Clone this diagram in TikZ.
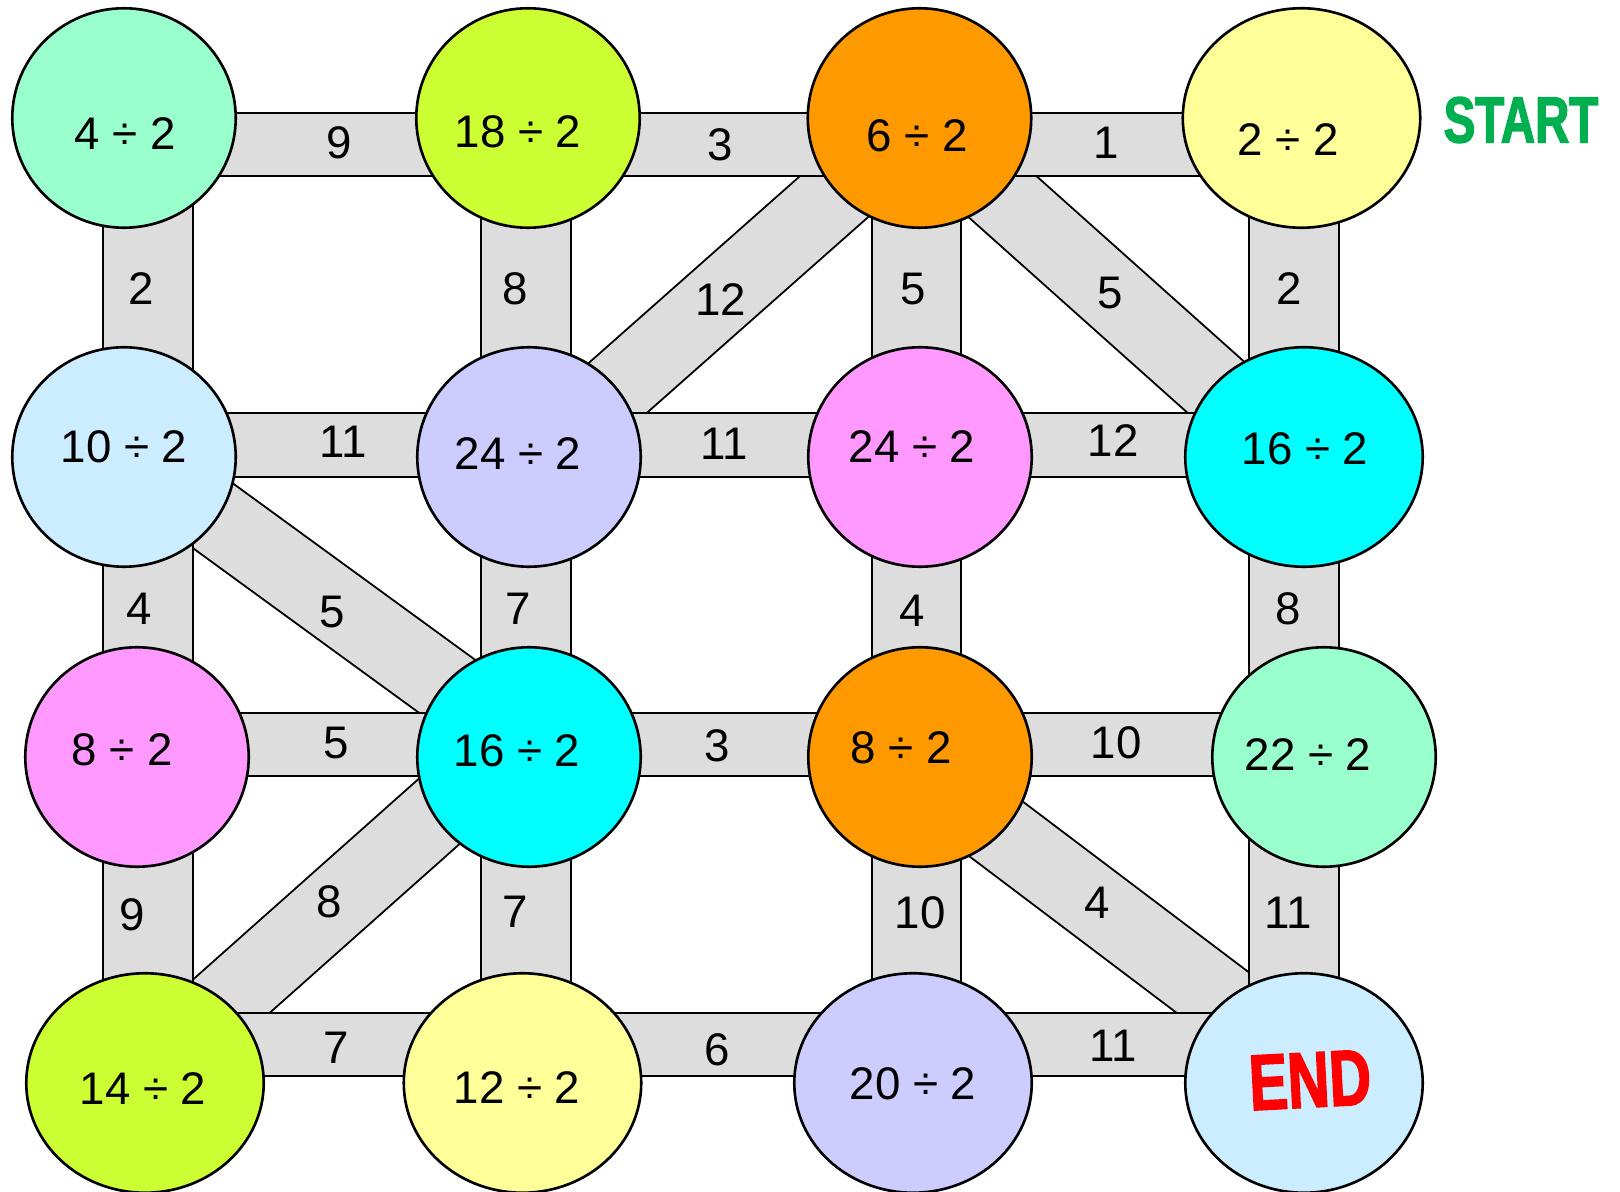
\documentclass[tikz,border=0pt]{standalone}
\usepackage{fontspec}
\setmainfont{Liberation Sans}
\newfontfamily\signfont{Liberation Sans}[FakeStretch=0.73,FakeBold=2]
\usetikzlibrary{shapes.geometric,calc}
\definecolor{mint}{HTML}{99FFCC}
\definecolor{lime}{HTML}{CCFF33}
\definecolor{amber}{HTML}{FF9900}
\definecolor{cream}{HTML}{FFFF99}
\definecolor{sky}{HTML}{CCECFF}
\definecolor{lilac}{HTML}{CCCCFF}
\definecolor{rose}{HTML}{FF99FF}
\definecolor{aqua}{HTML}{00FFFF}
\definecolor{road}{HTML}{DDDDDD}
\definecolor{go}{HTML}{00B050}
\pgfdeclarelayer{diag}
\pgfdeclarelayer{roads}
\pgfsetlayers{diag,roads,main}
\tikzset{
    disc/.style={ellipse,draw=black,line width=1.5pt,fill=#1,minimum width=4.47cm,minimum height=4.39cm,inner sep=0pt},
    wide/.style={minimum width=4.75cm},
    sum/.style={font=\fontsize{26}{30}\selectfont},
    weight/.style={font=\fontsize{26}{30}\selectfont},
    sign/.style={font=\signfont\bfseries\fontsize{#1}{#1}\selectfont},
    hedge/.style={draw=black,line width=1.1pt,double=road,double distance=35pt},
    vedge/.style={draw=black,line width=1.1pt,double=road,double distance=49.8pt},
    dedge/.style={draw=black,line width=1.1pt,double=road,double distance=42pt},
}

\begin{document}
\begin{tikzpicture}[x=0.02cm,y=-0.02cm]
\useasboundingbox (0,0) rectangle (1620,1192);
% stops
\node[disc=mint] (a1) at (124,118) {};
\node[disc=lime] (a2) at (528,118) {};
\node[disc=amber] (a3) at (919.5,118) {};
\node[disc=cream,wide] (a4) at (1301.5,118) {};
\node[disc=sky] (b1) at (124,457) {};
\node[disc=lilac] (b2) at (529,457) {};
\node[disc=rose] (b3) at (920,457) {};
\node[disc=aqua,wide] (b4) at (1304,457) {};
\node[disc=rose] (c1) at (137,757) {};
\node[disc=aqua] (c2) at (529,757) {};
\node[disc=amber] (c3) at (920,757) {};
\node[disc=mint] (c4) at (1324,757) {};
\node[disc=lime,wide] (d1) at (145,1083) {};
\node[disc=cream,wide] (d2) at (522.5,1083) {};
\node[disc=lilac,wide] (d3) at (913,1083) {};
\node[disc=sky,wide] (d4) at (1304,1083) {};
% sums
\node[sum] (s-a1) at (125,134) {4 ÷ 2};
\node[sum] (s-a2) at (518,132) {18 ÷ 2};
\node[sum] (s-a3) at (917,136) {6 ÷ 2};
\node[sum] (s-a4) at (1288,140) {2 ÷ 2};
\node[sum] (s-b1) at (124,447) {10 ÷ 2};
\node[sum] (s-b2) at (518,454) {24 ÷ 2};
\node[sum] (s-b3) at (912,447) {24 ÷ 2};
\node[sum] (s-b4) at (1305,449) {16 ÷ 2};
\node[sum] (s-c1) at (122,750) {8 ÷ 2};
\node[sum] (s-c2) at (517,751) {16 ÷ 2};
\node[sum] (s-c3) at (901,748) {8 ÷ 2};
\node[sum] (s-c4) at (1308,755) {22 ÷ 2};
\node[sum] (s-d1) at (143,1089) {14 ÷ 2};
\node[sum] (s-d2) at (517,1088) {12 ÷ 2};
\node[sum] (s-d3) at (913,1084) {20 ÷ 2};
\node[sign=45,text=red,rotate=3] (end) at (1310,1080) {END};
\node[sign=37,text=go] (start) at (1521,120) {START};
% rows and columns of the roads
\coordinate (r1) at (0,144.5);
\coordinate (r2) at (0,445);
\coordinate (r3) at (0,744.5);
\coordinate (r4) at (0,1044.5);
\coordinate (k1) at (148,0);
\coordinate (k2) at (526,0);
\coordinate (k3) at (916.5,0);
\coordinate (k4) at (1294,0);
\begin{pgfonlayer}{roads}
\draw[hedge] (a1 |- r1) -- (a2 |- r1);
\draw[hedge] (a2 |- r1) -- (a3 |- r1);
\draw[hedge] (a3 |- r1) -- (a4 |- r1);
\draw[hedge] (b1 |- r2) -- (b2 |- r2);
\draw[hedge] (b2 |- r2) -- (b3 |- r2);
\draw[hedge] (b3 |- r2) -- (b4 |- r2);
\draw[hedge] (c1 |- r3) -- (c2 |- r3);
\draw[hedge] (c2 |- r3) -- (c3 |- r3);
\draw[hedge] (c3 |- r3) -- (c4 |- r3);
\draw[hedge] (d1 |- r4) -- (d2 |- r4);
\draw[hedge] (d2 |- r4) -- (d3 |- r4);
\draw[hedge] (d3 |- r4) -- (d4 |- r4);
\draw[vedge] (a1 -| k1) -- (b1 -| k1);
\draw[vedge] (b1 -| k1) -- (c1 -| k1);
\draw[vedge] (c1 -| k1) -- (d1 -| k1);
\draw[vedge] (a2 -| k2) -- (b2 -| k2);
\draw[vedge] (b2 -| k2) -- (c2 -| k2);
\draw[vedge] (c2 -| k2) -- (d2 -| k2);
\draw[vedge] (a3 -| k3) -- (b3 -| k3);
\draw[vedge] (b3 -| k3) -- (c3 -| k3);
\draw[vedge] (c3 -| k3) -- (d3 -| k3);
\draw[vedge] (a4 -| k4) -- (b4 -| k4);
\draw[vedge] (b4 -| k4) -- (c4 -| k4);
\draw[vedge] (c4 -| k4) -- (d4 -| k4);
\end{pgfonlayer}
\begin{pgfonlayer}{diag}
\draw[dedge] ($(b2)+(0,9.5)$) -- ($(a3)+(0,3)$);
\draw[dedge] ($(a3)+(0,4.5)$) -- ($(b4)+(0,9)$);
\draw[dedge] ($(b1)+(0,-6)$) -- ($(c2)+(0,-11)$);
\draw[dedge] ($(c2)+(0,-25.5)$) -- ($(d1)+(0,-10)$);
\draw[dedge] ($(c3)+(0,14.5)$) -- ($(d4)+(0,-21.5)$);
\end{pgfonlayer}
% weights
\node[weight] (w-a1a2) at (339,143) {9};
\node[weight] (w-a2a3) at (720,145) {3};
\node[weight] (w-a3a4) at (1106,143) {1};
\node[weight] (w-b1b2) at (343,442) {11};
\node[weight] (w-b2b3) at (724,444) {11};
\node[weight] (w-b3b4) at (1113,441) {12};
\node[weight] (w-c1c2) at (336,743) {5};
\node[weight] (w-c2c3) at (717,746) {3};
\node[weight] (w-c3c4) at (1116,743) {10};
\node[weight] (w-d1d2) at (336,1048) {7};
\node[weight] (w-d2d3) at (717,1050) {6};
\node[weight] (w-d3d4) at (1113,1046) {11};
\node[weight] (w-a1b1) at (141,289) {2};
\node[weight] (w-b1c1) at (139.5,609) {4};
\node[weight] (w-c1d1) at (132.6,915) {9};
\node[weight] (w-a2b2) at (515,289) {8};
\node[weight] (w-b2c2) at (518,609) {7};
\node[weight] (w-c2d2) at (515,912) {7};
\node[weight] (w-a3b3) at (913,289) {5};
\node[weight] (w-b3c3) at (912,611) {4};
\node[weight] (w-c3d3) at (920,913) {10};
\node[weight] (w-a4b4) at (1289,289) {2};
\node[weight] (w-b4c4) at (1288,609) {8};
\node[weight] (w-c4d4) at (1288,913) {11};
\node[weight] (w-b2a3) at (721,300) {12};
\node[weight] (w-a3b4) at (1110,293) {5};
\node[weight] (w-b1c2) at (332,612) {5};
\node[weight] (w-c2d1) at (329,902) {8};
\node[weight] (w-c3d4) at (1097,903) {4};
\end{tikzpicture}
\end{document}
